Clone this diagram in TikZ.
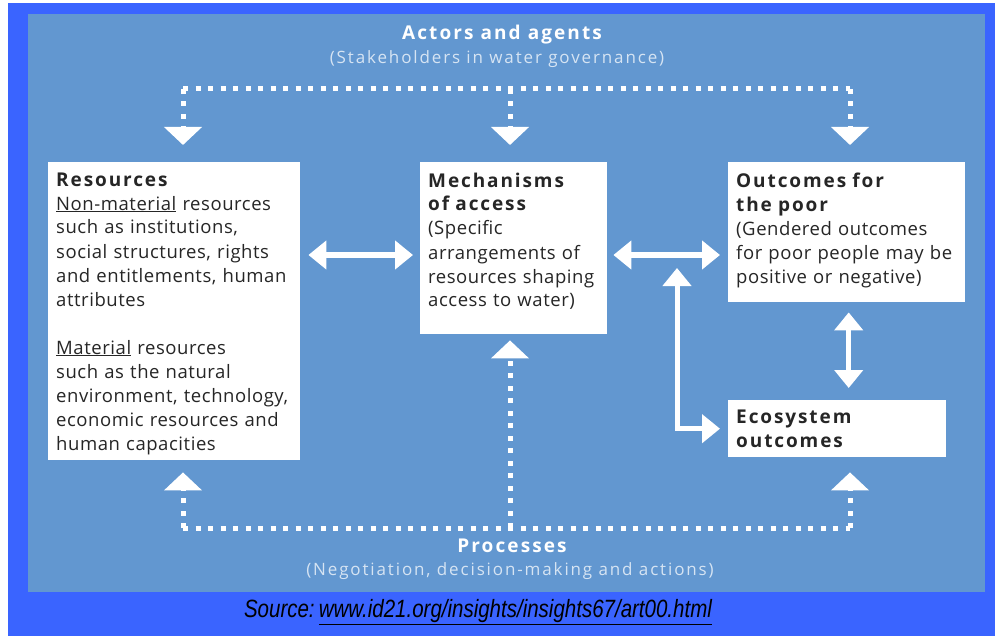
\documentclass[tikz,border=0pt]{standalone}
\usepackage{fontspec}
\setmainfont{Open Sans}[LetterSpace=3]
\newfontfamily\srcfont[FakeStretch=0.82]{Liberation Sans}
\usetikzlibrary{arrows.meta}

\definecolor{outerblue}{RGB}{58,100,255}
\definecolor{panelblue}{RGB}{98,151,208}
\definecolor{boxtext}{RGB}{38,38,38}
\definecolor{subwhite}{RGB}{214,228,243}

% lines of a box, kept as set (no wrapping)
\newcommand{\boxlines}[1]{\begin{tabular}{@{}l@{}}#1\end{tabular}}
% bold title line of a box
\newcommand{\boxtitle}[1]{{\fontsize{19}{24}\selectfont\addfontfeature{LetterSpace=10}\bfseries #1}}

\begin{document}
\begin{tikzpicture}[x=1pt, y=-1pt,
    box/.style={fill=white, anchor=north west, align=left, inner xsep=8pt,
        inner ysep=0pt, text=boxtext, font=\fontsize{18.5}{24}\selectfont},
    head/.style={text=white, font=\fontsize{19}{24}\selectfont\addfontfeature{LetterSpace=11}\bfseries},
    subhead/.style={text=subwhite, font=\fontsize{17}{22}\selectfont\addfontfeature{LetterSpace=11}},
    dots/.style={white, line width=5pt, dash pattern=on 5pt off 7.5pt,
        -{Triangle[width=37pt,length=18pt]}},
    dotline/.style={white, line width=5pt, dash pattern=on 5pt off 7.5pt},
    twoway/.style={white, line width=5pt,
        {Triangle[width=28pt,length=18pt]}-{Triangle[width=28pt,length=18pt]}}]
    \useasboundingbox (0,0) rectangle (995,636);
    \fill[white] (0,0) rectangle (995,636);
    \fill[outerblue] (8,3) rectangle (995,636);
    \fill[panelblue] (28,14) rectangle (985,592);

    % headings
    \node[head] (actors) at (502,35) {Actors and agents};
    \node[subhead] (actsub) at (497,59) {(Stakeholders in water governance)};
    \node[head] (proc) at (512,546) {Processes};
    \node[subhead] (procsub) at (510,571) {(Negotiation, decision-making and actions)};

    % boxes
    \node[box, text width=236pt, minimum height=298pt] (res) at (48,162)
        {\boxlines{\boxtitle{Resources}\\
        \underline{Non-material} resources\\ such as institutions,\\
        social structures, rights\\ and entitlements, human\\ attributes\\[24pt]
        \underline{Material} resources\\ such as the natural\\
        environment, technology,\\ economic resources and\\ human capacities\\[-4pt]}};
    \node[box, text width=171pt, minimum height=172pt] (mech) at (420,162)
        {\boxlines{\boxtitle{Mechanisms}\\ \boxtitle{of access}\\ (Specific\\ arrangements of\\
        resources shaping\\ access to water)\\[12pt]}};
    \node[box, text width=221pt, minimum height=140pt] (poor) at (728,162)
        {\boxlines{\boxtitle{Outcomes for}\\ \boxtitle{the poor}\\ (Gendered outcomes\\
        for poor people may be\\ positive or negative)\\[3pt]}};
    \node[box, text width=202pt, minimum height=57pt] (eco) at (728,400)
        {\boxlines{\boxtitle{Ecosystem}\\ \boxtitle{outcomes}\\[-3pt]}};

    % dotted links from actors and processes
    \coordinate (tl) at (183,89);
    \coordinate (tm) at (510,89);
    \coordinate (tr) at (850,89);
    \coordinate (bl) at (183,528);
    \coordinate (bm) at (510,528);
    \coordinate (br) at (850,528);
    \draw[dotline] (tl) -- (tr);
    \draw[dots, shorten >=17pt] (tl) -- (tl |- res.north);
    \draw[dots, shorten >=17pt] (tm) -- (tm |- mech.north);
    \draw[dots, shorten >=17pt] (tr) -- (tr |- poor.north);
    \draw[dotline] (bl) -- (br);
    \draw[dots, shorten >=12pt] (bl) -- (bl |- res.south);
    \draw[dots, shorten >=6pt] (bm) -- (bm |- mech.south);
    \draw[dots, shorten >=15pt] (br) -- (br |- eco.south);

    % two-way links
    \coordinate (j) at (677,268);
    \draw[twoway, shorten <=8pt, shorten >=7pt] (res.east |- 0,255) -- (mech.west |- 0,255);
    \draw[twoway, shorten <=6pt, shorten >=8pt] (mech.east |- 0,255) -- (poor.west |- 0,255);
    \draw[twoway, shorten <=10pt, shorten >=12pt] ([xshift=2pt]poor.south) -- ([xshift=2pt]poor.south |- eco.north);
    \draw[twoway, shorten >=8pt] (j) -- (j |- eco.west) -- (eco.west);

    % source line
    \node (src) at (478,612) {\fontsize{25}{28}\srcfont\itshape Source:\,\underline{www.id21.org/insights/insights67/art00.html}};
\end{tikzpicture}
\end{document}
